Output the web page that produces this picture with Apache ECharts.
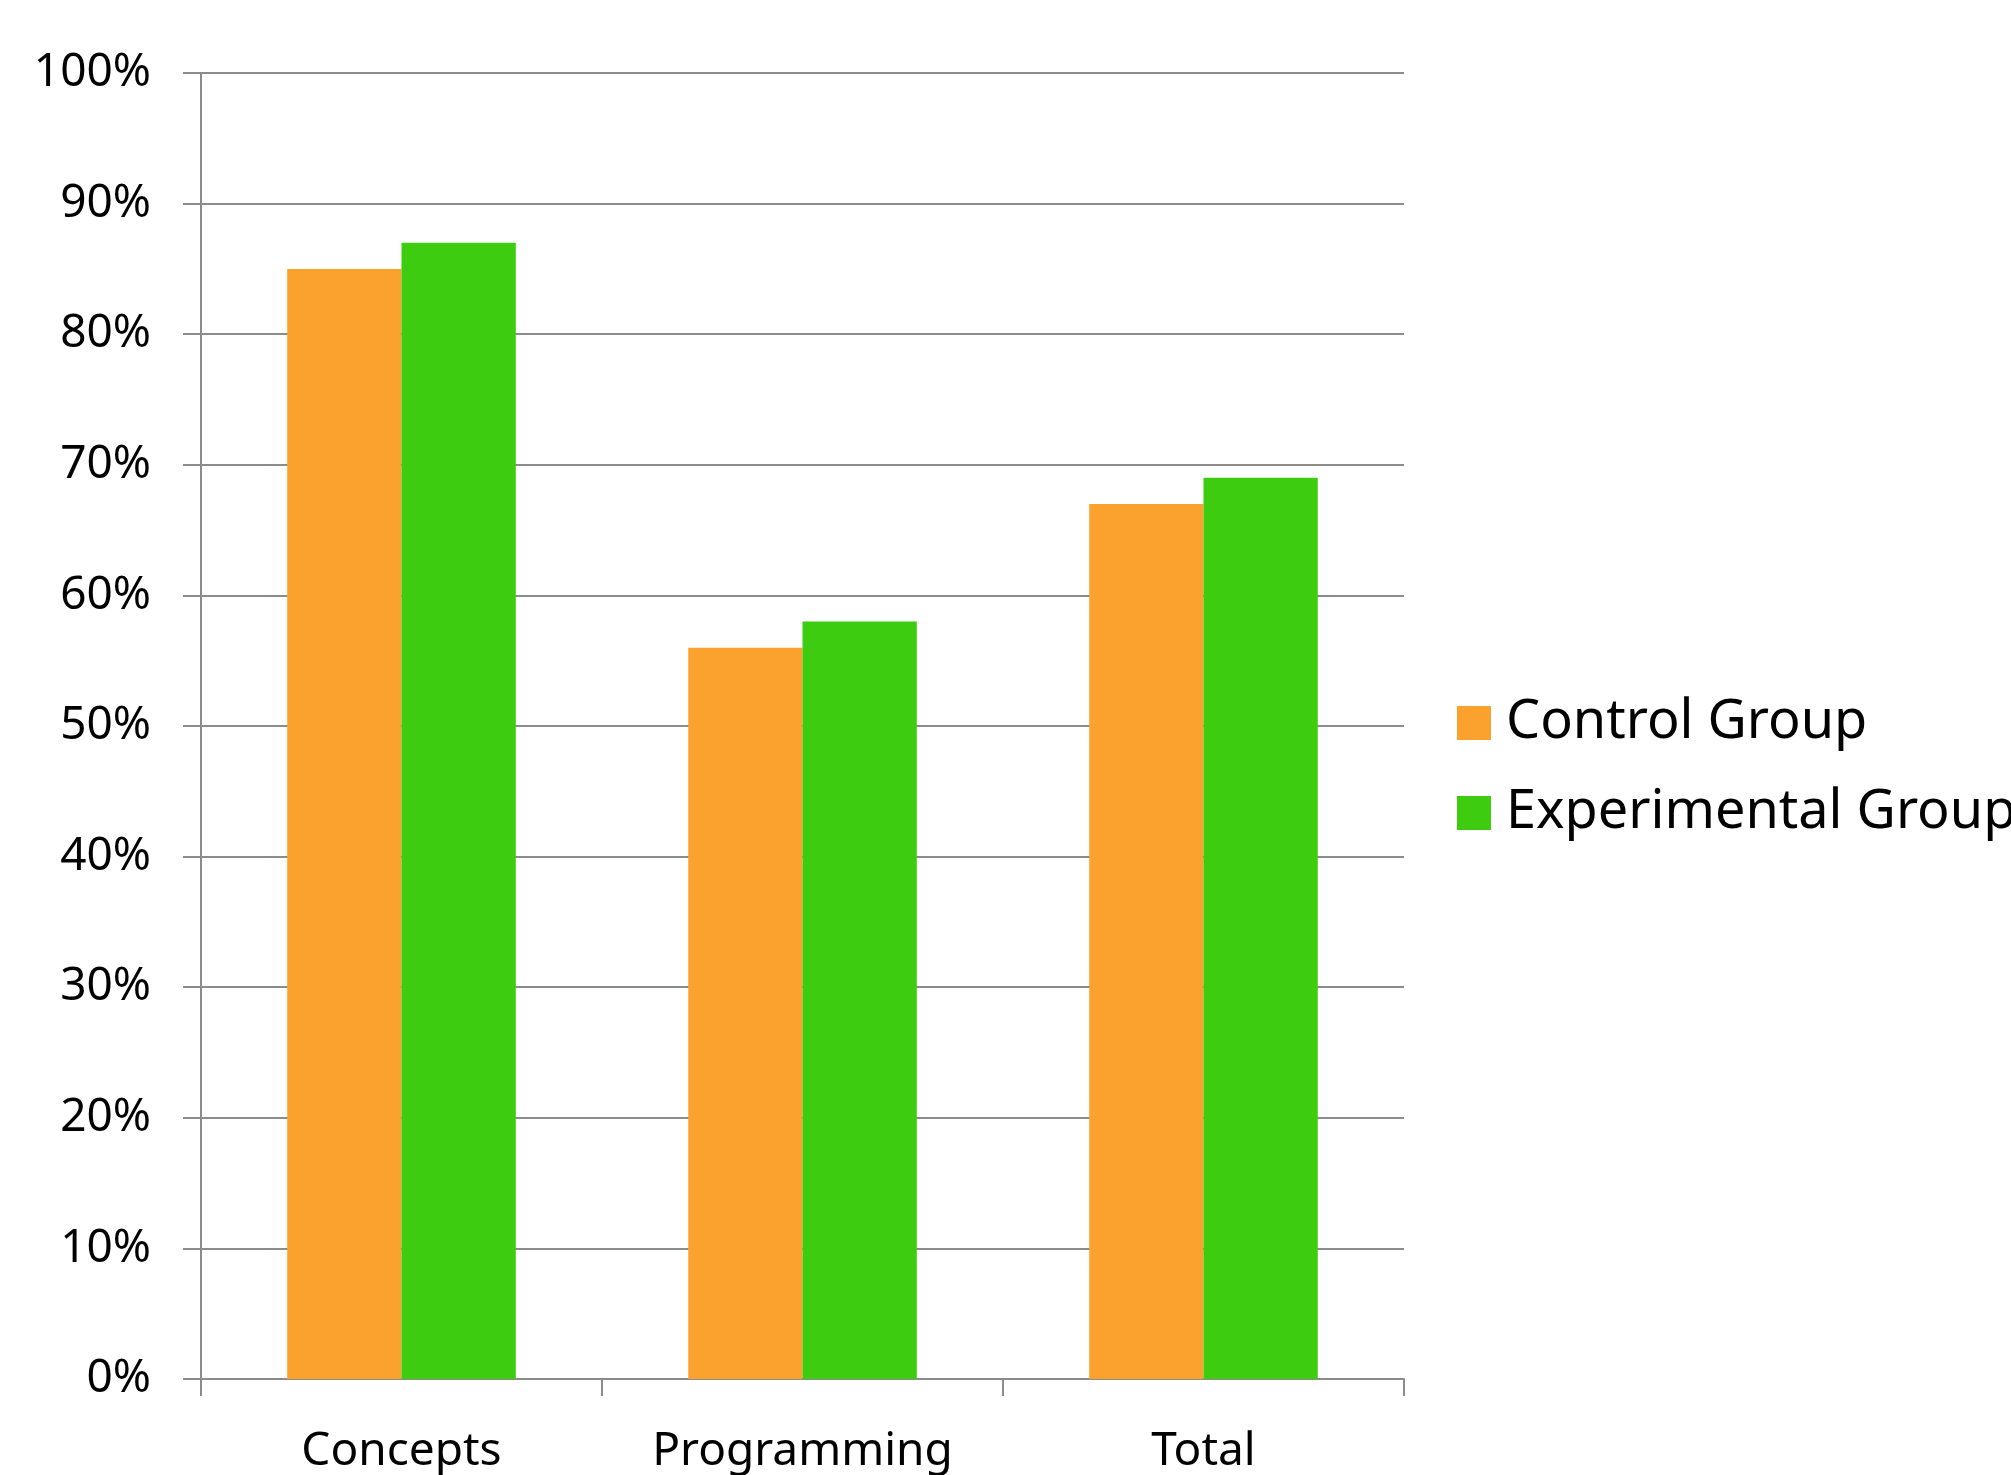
<!DOCTYPE html>
<html>
<head>
<meta charset="utf-8">
<script src="https://cdn.jsdelivr.net/npm/echarts@6/dist/echarts.min.js"></script>
<style>
html,body{margin:0;padding:0;background:#fff;}
#chart{width:2011px;height:1475px;}
</style>
</head>
<body>
<div id="chart"></div>
<script>
const categories = ['Concepts', 'Programming', 'Total'];
const controlGroup = [85, 56, 67];
const experimentalGroup = [87, 58, 69];
const seriesNames = ['Control Group', 'Experimental Group'];

const FONT = 'Noto Sans';
const GRAY = '#8c8c8c';

const chart = echarts.init(document.getElementById('chart'));
chart.setOption({
  animation: false,
  backgroundColor: '#ffffff',
  textStyle: { fontFamily: FONT },
  grid: { left: 201, right: 607, top: 73, bottom: 89, containLabel: false },
  legend: {
    orient: 'vertical',
    left: 1452,
    top: 690,
    itemWidth: 34,
    itemHeight: 34,
    itemGap: 34,
    icon: 'rect',
    textStyle: { fontFamily: FONT, fontSize: 54, color: '#000', lineHeight: 56, padding: [0, 0, 0, 10] },
    data: seriesNames
  },
  xAxis: {
    type: 'category',
    data: categories,
    axisLine: { lineStyle: { color: GRAY, width: 2 } },
    axisTick: { show: true, length: 17, lineStyle: { color: GRAY, width: 2 } },
    axisLabel: { fontFamily: FONT, fontSize: 46, color: '#000', margin: 50 }
  },
  yAxis: {
    type: 'value',
    min: 0,
    max: 100,
    interval: 10,
    axisLine: { show: true, lineStyle: { color: GRAY, width: 2 } },
    axisTick: { show: true, length: 18, lineStyle: { color: GRAY, width: 2 } },
    splitLine: { lineStyle: { color: GRAY, width: 2 } },
    axisLabel: { fontFamily: FONT, fontSize: 46, color: '#000', margin: 50, formatter: '{value}%' }
  },
  series: [
    {
      name: seriesNames[0],
      type: 'bar',
      data: controlGroup,
      barGap: '0%',
      barCategoryGap: '43%',
      itemStyle: { color: '#FBA22E' }
    },
    {
      name: seriesNames[1],
      type: 'bar',
      data: experimentalGroup,
      barGap: '0%',
      barCategoryGap: '43%',
      itemStyle: { color: '#3DCC10' }
    }
  ]
});
</script>
</body>
</html>
